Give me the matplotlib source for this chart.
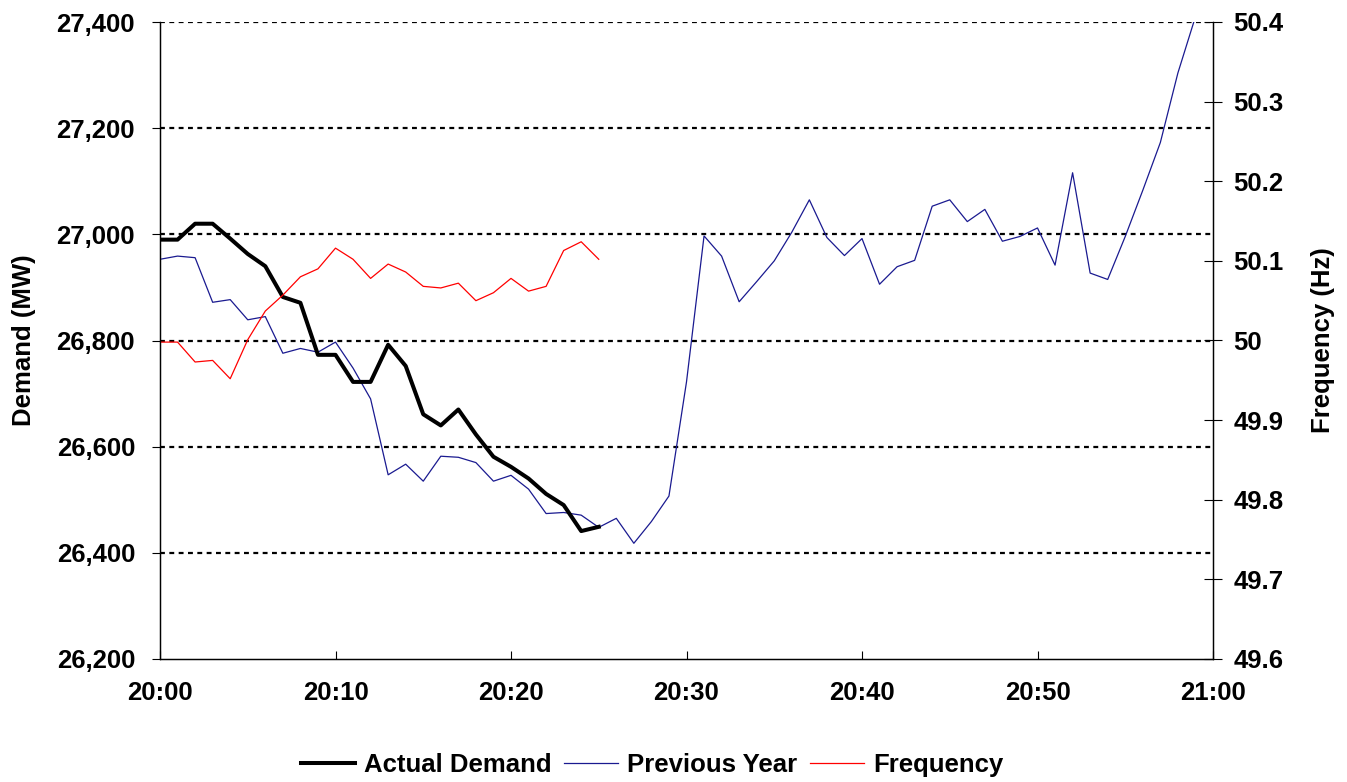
import matplotlib
matplotlib.use("Agg")
import matplotlib.pyplot as plt
from matplotlib.ticker import FixedLocator, FuncFormatter

# ---- data ----
minutes_actual = list(range(0, 26))
actual_demand = [26990, 26990, 27020, 27020, 26992, 26963, 26940, 26882, 26871, 26773,
                 26773, 26722, 26722, 26792, 26752, 26661, 26640, 26670, 26623, 26581,
                 26562, 26540, 26511, 26490, 26441, 26449]

minutes_prev = list(range(0, 60))
previous_year = [26953, 26959, 26956, 26872, 26877, 26839, 26845, 26776, 26785, 26778,
                 26797, 26748, 26690, 26547, 26567, 26535, 26582, 26580, 26570, 26535,
                 26546, 26520, 26474, 26476, 26471, 26448, 26465, 26418, 26459, 26507,
                 26722, 26997, 26959, 26873, 26911, 26950, 27004, 27065, 26994, 26960,
                 26992, 26906, 26939, 26951, 27053, 27065, 27024, 27047, 26987, 26996,
                 27012, 26942, 27116, 26927, 26915, 26996, 27083, 27173, 27304, 27410]

minutes_freq = list(range(0, 26))
frequency = [49.998, 49.998, 49.973, 49.975, 49.952, 50.001, 50.037, 50.057, 50.080, 50.090,
             50.116, 50.102, 50.078, 50.096, 50.086, 50.068, 50.066, 50.072, 50.050, 50.060,
             50.078, 50.062, 50.068, 50.113, 50.124, 50.102]

x_tick_pos = [0, 10, 20, 30, 40, 50, 60]
x_tick_labels = ["20:00", "20:10", "20:20", "20:30", "20:40", "20:50", "21:00"]
demand_ticks = [26200, 26400, 26600, 26800, 27000, 27200, 27400]
freq_ticks = [49.6, 49.7, 49.8, 49.9, 50.0, 50.1, 50.2, 50.3, 50.4]

# ---- style ----
plt.rcParams['font.family'] = ['Liberation Sans', 'DejaVu Sans']
plt.rcParams['font.weight'] = 'bold'
FS = 18.5

fig = plt.figure(figsize=(13.47, 7.82), dpi=100)
ax = fig.add_axes([160/1347, 1 - 659/782, (1213-160)/1347, (659-22)/782])
ax2 = ax.twinx()

# horizontal dotted gridlines (bottom one coincides with the axis line)
for v in demand_ticks[1:]:
    ax.axhline(v, color='black', lw=1.6, linestyle=(0, (2.2, 2.0)), zorder=1)

l1, = ax.plot(minutes_actual, actual_demand, color='black', lw=2.9, label='Actual Demand',
              zorder=4)
l2, = ax.plot(minutes_prev, previous_year, color='#1a1a90', lw=0.9, label='Previous Year', zorder=3)
l3, = ax2.plot(minutes_freq, frequency, color='#ff0000', lw=0.9, label='Frequency')

ax.set_xlim(0, 60)
ax.set_ylim(26200, 27400)
ax2.set_ylim(49.6, 50.4)

ax.xaxis.set_major_locator(FixedLocator(x_tick_pos))
ax.set_xticklabels(x_tick_labels, fontsize=FS, fontweight='bold')
ax.yaxis.set_major_locator(FixedLocator(demand_ticks))
ax.yaxis.set_major_formatter(FuncFormatter(lambda v, p: f"{v:,.0f}"))
ax2.yaxis.set_major_locator(FixedLocator(freq_ticks))
ax2.yaxis.set_major_formatter(FuncFormatter(lambda v, p: f"{v:g}"))

for lab in ax.get_yticklabels() + ax2.get_yticklabels():
    lab.set_fontsize(FS)
    lab.set_fontweight('bold')

ax.tick_params(axis='x', direction='in', length=6, width=0.8, pad=16)
ax.tick_params(axis='y', direction='out', length=6, width=0.8, pad=12)
ax2.tick_params(axis='y', direction='inout', length=13, width=0.8, pad=8)

for a in (ax, ax2):
    a.spines['top'].set_visible(False)
    for s in ('left', 'right', 'bottom'):
        a.spines[s].set_linewidth(0.9)

ax.set_ylabel('Demand (MW)', fontsize=FS, fontweight='bold')
ax.yaxis.set_label_coords(-0.118, 0.5)
ax2.set_ylabel('Frequency (Hz)', fontsize=FS, fontweight='bold')
ax2.yaxis.set_label_coords(1.093, 0.5)

fig.legend(handles=[l1, l2, l3], loc='center', bbox_to_anchor=(652/1347, 1 - 765/782),
           ncol=3, frameon=False, handlelength=2.1, handletextpad=0.35,
           columnspacing=0.5, prop={'weight': 'bold', 'size': FS})

fig.savefig('out.png', dpi=100)
